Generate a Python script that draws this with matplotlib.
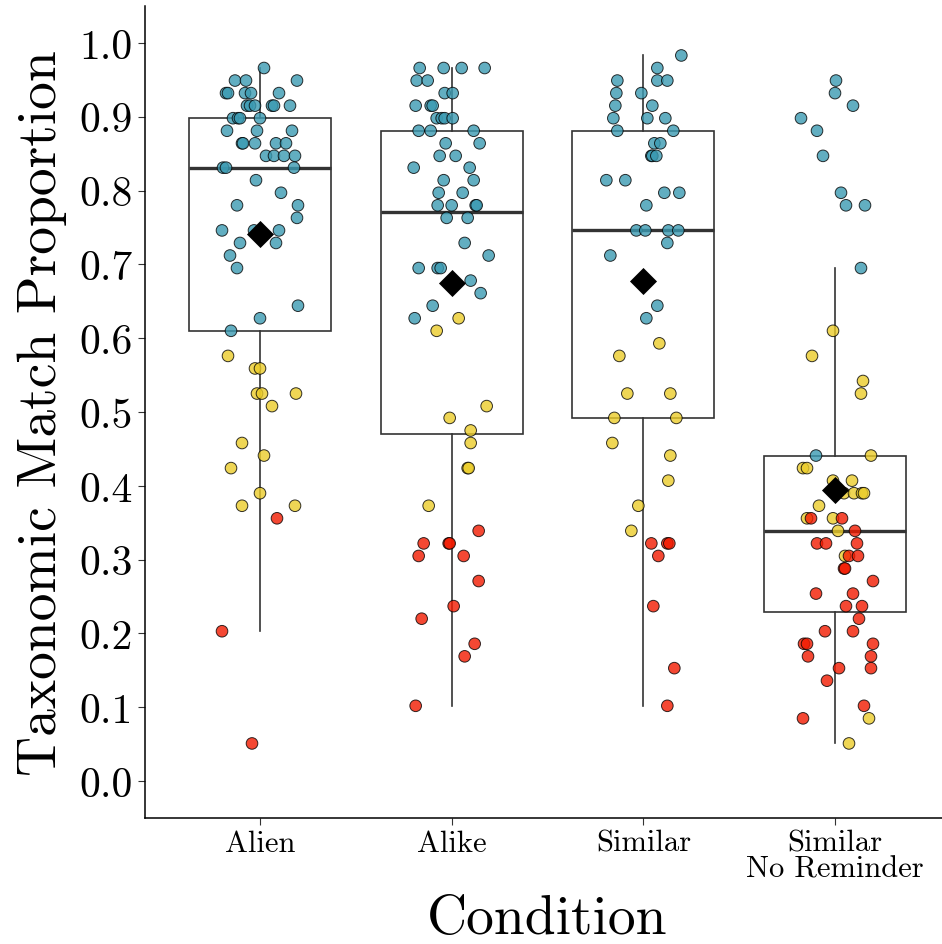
import matplotlib
matplotlib.use("Agg")
import matplotlib.pyplot as plt
import numpy as np

plt.rcParams['font.family'] = ['cmr10', 'DejaVu Sans']
plt.rcParams['mathtext.fontset'] = 'cm'
plt.rcParams['axes.unicode_minus'] = False
plt.rcParams['axes.formatter.use_mathtext'] = True

# ---------------- data ----------------
categories = ["Alien", "Alike", "Similar", "Similar\nNo Reminder"]
y_ticks = [0.0, 0.1, 0.2, 0.3, 0.4, 0.5, 0.6, 0.7, 0.8, 0.9, 1.0]
y_tick_labels = ["0.0", "0.1", "0.2", "0.3", "0.4", "0.5", "0.6", "0.7", "0.8", "0.9", "1.0"]

alien_values = [0.966, 0.949, 0.949, 0.949, 0.932, 0.932, 0.932, 0.932, 0.932,
                0.915, 0.915, 0.915, 0.915, 0.915, 0.915, 0.898, 0.898, 0.898, 0.898,
                0.881, 0.881, 0.881, 0.864, 0.864, 0.864, 0.864, 0.864,
                0.847, 0.847, 0.847, 0.847, 0.831, 0.831, 0.831, 0.814, 0.797,
                0.780, 0.780, 0.763, 0.746, 0.746, 0.746, 0.729, 0.729, 0.712, 0.695,
                0.644, 0.627, 0.610,
                0.576, 0.559, 0.559, 0.525, 0.525, 0.525, 0.508, 0.458, 0.441, 0.424,
                0.390, 0.373, 0.373,
                0.356, 0.203, 0.051]
alien_jitter = [4, -25, -14, 37, -34, -32, -15, -9, 19,
                -13, -10, -5, 12, 14, 30, -27, -22, -20, 0,
                -33, -3, 32, -18, -17, -5, 16, 26,
                6, 14, 24, 35, -37, -34, 34, -4, 21,
                -23, 38, 37, -38, -6, 19, -20, 16, -30, -23,
                38, 0, -29,
                -32, -5, 0, -3, 2, 36, 12, -18, 4, -29,
                0, -18, 35,
                17, -38, -8]
alien_type = "BBBBBBBBBBBBBBBBBBBBBBBBBBBBBBBBBBBBBBBBBBBBBBBBBYYYYYYYYYYYYYRRR"

alike_values = [0.966, 0.966, 0.966, 0.966, 0.949, 0.949, 0.932, 0.932,
                0.915, 0.915, 0.915, 0.898, 0.898, 0.898, 0.898, 0.881, 0.881, 0.881,
                0.864, 0.864, 0.847, 0.847, 0.831, 0.831, 0.814, 0.814, 0.797, 0.797,
                0.780, 0.780, 0.780, 0.780, 0.763, 0.763, 0.729, 0.712,
                0.695, 0.695, 0.695, 0.678, 0.661, 0.644, 0.627,
                0.627, 0.610, 0.508, 0.492, 0.475, 0.458, 0.424, 0.424, 0.373,
                0.339, 0.322, 0.322, 0.322, 0.305, 0.305, 0.271, 0.237, 0.220,
                0.186, 0.169, 0.102]
alike_jitter = [-32, -8, 10, 33, -35, -24, -7, 1,
                -36, -21, -19, -15, -10, -7, 1, -33, -21, 22,
                -6, 28, -12, 4, -38, 18, -8, 22, -13, 11,
                -14, 0, 24, 25, -5, 16, 13, 37,
                -33, -14, -11, 19, 29, -19, -37,
                7, -15, 35, -2, 19, 19, 16, 17, -23,
                27, -28, -3, -2, -33, 12, 27, 2, -30,
                23, 13, -36]
alike_type = "BBBBBBBBBBBBBBBBBBBBBBBBBBBBBBBBBBBBBBBBBBBYYYYYYYYYRRRRRRRRRRRR"

similar_values = [0.983, 0.966, 0.949, 0.949, 0.949, 0.932, 0.932, 0.915, 0.915,
                  0.898, 0.898, 0.898, 0.881, 0.881, 0.864, 0.864,
                  0.847, 0.847, 0.847, 0.814, 0.814, 0.797, 0.797, 0.780,
                  0.746, 0.746, 0.746, 0.746, 0.729, 0.712, 0.644, 0.627,
                  0.593, 0.576, 0.525, 0.525, 0.492, 0.492, 0.458, 0.441, 0.407,
                  0.373, 0.339,
                  0.322, 0.322, 0.322, 0.305, 0.237, 0.153, 0.102]
similar_jitter = [38, 14, -26, 14, 24, -27, -2, -28, 9,
                  -30, 4, 22, -26, 30, 11, 17,
                  8, 9, 13, -37, -18, 21, 36, 3,
                  -7, 2, 25, 35, 24, -33, 14, 3,
                  16, -24, -16, 27, -29, 33, -31, 27, 25,
                  -5, -12,
                  8, 24, 26, 15, 10, 31, 24]
similar_type = "BBBBBBBBBBBBBBBBBBBBBBBBBBBBBBBBYYYYYYYYYYYRRRRRRR"

snr_values = [0.949, 0.932, 0.915, 0.898, 0.881, 0.847, 0.797, 0.780, 0.780, 0.695,
              0.610, 0.576, 0.542, 0.525, 0.441, 0.441, 0.424, 0.424, 0.407, 0.407,
              0.390, 0.390, 0.390, 0.390, 0.373, 0.356, 0.356, 0.356, 0.356,
              0.339, 0.339, 0.322, 0.322, 0.322, 0.305, 0.305, 0.305,
              0.288, 0.288, 0.271, 0.254, 0.254, 0.237, 0.237, 0.220,
              0.203, 0.203, 0.186, 0.186, 0.186, 0.169, 0.169, 0.153, 0.153,
              0.136, 0.102, 0.085, 0.085, 0.051]
snr_jitter = [1, 0, 18, -34, -18, -12, 6, 11, 30, 26,
              -2, -23, 28, 26, -19, 36, -32, -28, -2, 17,
              9, 19, 27, 29, -16, -28, -24, -2, 7,
              3, 20, -18, -9, 22, 10, 14, 23,
              9, 10, 38, -19, 18, 11, 27, 24,
              -10, 18, -31, -28, 38, -27, 36, 4, 36,
              -8, 29, -32, 34, 14]
snr_type = "BBBBBBBBBBYYYYBYYYYYYYYYYYRYRYRRRRYRRRRRRRRRRRRRRRRRRRRRRYY"

groups_values = [alien_values, alike_values, similar_values, snr_values]
groups_jitter = [alien_jitter, alike_jitter, similar_jitter, snr_jitter]
groups_type = [alien_type, alike_type, similar_type, snr_type]

# ---------------- style ----------------
type_colors = {"B": "#3B9AB2", "Y": "#EBCC2A", "R": "#F21A00"}
jitter_scale = 1.0 / 191.7
line_col = "#333333"

W, H = 942, 945
fig = plt.figure(figsize=(W / 100, H / 100), dpi=100)
ax = fig.add_axes([145 / W, (H - 819) / H, 805 / W, 812 / H])

positions = np.arange(1, len(categories) + 1)
ax.boxplot(groups_values, positions=positions, widths=0.74, showcaps=False,
           showfliers=False, patch_artist=True, whis=1.5,
           boxprops=dict(facecolor="white", edgecolor=line_col, linewidth=1.2),
           medianprops=dict(color=line_col, linewidth=2.4),
           whiskerprops=dict(color=line_col, linewidth=1.2),
           zorder=1)

for pos, vals, jit, typ in zip(positions, groups_values, groups_jitter, groups_type):
    xs = pos + np.array(jit) * jitter_scale
    cols = [type_colors[t] for t in typ]
    ax.scatter(xs, vals, s=70, c=cols, edgecolors="black", linewidths=0.7,
               alpha=0.8, zorder=3)
    ax.scatter([pos], [np.mean(vals)], s=190, marker="D", color="black",
               zorder=4, linewidths=0)

ax.set_xlim(0.4, 4.6)
ax.set_ylim(-0.05, 1.05)
ax.set_xticks(positions)
ax.set_xticklabels(categories, fontsize=22, linespacing=0.95)
ax.set_yticks(y_ticks)
ax.set_yticklabels(y_tick_labels, fontsize=30)
ax.tick_params(axis="both", direction="out", length=5, width=0.8, color=line_col)
ax.tick_params(axis="x", pad=3)
ax.tick_params(axis="y", pad=4)

for s in ["top", "right"]:
    ax.spines[s].set_visible(False)
for s in ["left", "bottom"]:
    ax.spines[s].set_linewidth(1.1)
    ax.spines[s].set_color("black")

ax.set_xlabel("Condition", fontsize=40, labelpad=8)
ax.set_ylabel("Taxonomic Match Proportion", fontsize=40, labelpad=9)

fig.savefig("out.png", dpi=100)
